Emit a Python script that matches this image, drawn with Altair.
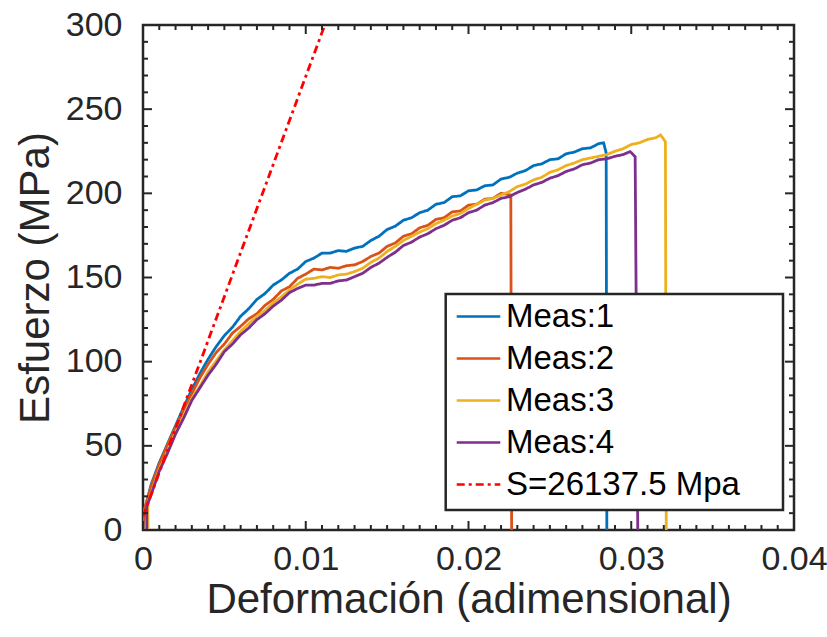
import altair as alt
import pandas as pd

# ---------------- data ----------------
SERIES = ["Meas:1", "Meas:2", "Meas:3", "Meas:4", "S=26137.5 Mpa"]
COLORS = ["#0072BD", "#D95319", "#EDB120", "#7E2F8E", "#FF0000"]

# shared strain sampling grid (0.0005 .. 0.0315)
GRID = [0.0005, 0.001, 0.0015, 0.002, 0.0025, 0.003, 0.0035, 0.004, 0.0045, 0.005,
        0.0055, 0.006, 0.0065, 0.007, 0.0075, 0.008, 0.0085, 0.009, 0.0095, 0.010,
        0.0105, 0.011, 0.0115, 0.012, 0.0125, 0.013, 0.0135, 0.014, 0.0145, 0.015,
        0.0155, 0.016, 0.0165, 0.017, 0.0175, 0.018, 0.0185, 0.019, 0.0195, 0.020,
        0.0205, 0.021, 0.0215, 0.022, 0.0225, 0.023, 0.0235, 0.024, 0.0245, 0.025,
        0.0255, 0.026, 0.0265, 0.027, 0.0275, 0.028, 0.0285, 0.029, 0.0295, 0.030,
        0.0305, 0.031, 0.0315]

# Meas:1 (blue)
m1_x_start = [0.0, 0.0001]
m1_y_start = [0, 12]
m1_y = [27, 40, 51, 62, 73, 83.5, 93, 101.5, 109, 115.5,
        120.5, 127, 131.5, 137, 140.5, 145.5, 148.5, 152.5, 155, 159.5,
        161.5, 164.5, 164.5, 166, 165.5, 167.5, 168.5, 172, 174.5, 178.5,
        180.5, 184, 185.5, 188.5, 190, 193.5, 194.5, 198, 198.5, 201.5,
        202, 204.5, 205, 208.5, 209.5, 212, 213.5, 216.5, 217.5, 220,
        220.5, 223.5, 224.5, 226.5, 227, 229.5]
m1_x_end = [0.0283, 0.02846, 0.0285]
m1_y_end = [230, 224, 0]

# Meas:2 (orange)
m2_x_start = [0.0, 0.00005]
m2_y_start = [0, 11]
m2_y = [26, 39, 50.5, 61, 71.5, 81, 90.5, 98.5, 105.5, 110.5,
        117, 121, 125.5, 128.5, 133.5, 137, 142, 144.5, 149.5, 152,
        155, 154.5, 156, 155.5, 157, 157.5, 159.5, 162.5, 164.5, 168.5,
        170.5, 174.5, 176, 179.5, 181, 184.5, 185.5, 189, 189.5, 193,
        193.5, 196.5, 197, 200]
m2_x_end = [0.0226, 0.02265]
m2_y_end = [199, 0]

# Meas:3 (yellow)
m3_x_start = [0.0003, 0.0003]
m3_y_start = [0, 16]
m3_y = [22, 36, 46.5, 58, 67.5, 78, 85.5, 94, 100.5, 107,
        112.5, 118, 122.5, 127, 130.5, 135, 138.5, 142.5, 146, 149,
        149.5, 150.5, 150, 151.5, 152, 153.5, 155.5, 159, 161.5, 165.5,
        168.5, 172, 174.5, 177, 179, 182, 184, 186.5, 188, 191,
        193.5, 196, 197, 199, 201, 204, 205.5, 208, 209.5, 212.5,
        214, 216.5, 218, 220, 221, 222, 223, 225, 226.5, 229,
        230, 232, 233]
m3_x_end = [0.0318, 0.0321, 0.03215]
m3_y_end = [234.7, 230.7, 0]

# Meas:4 (purple)
m4_x_start = [0.00023, 0.00023]
m4_y_start = [0, 14]
m4_y = [21, 35, 45.5, 57, 66.5, 77, 84.5, 92, 98.5, 106,
        110.5, 116, 120, 125, 128.5, 133, 136.5, 141, 143.5, 145.5,
        145.5, 146.5, 146.5, 148, 148.5, 150.5, 152.5, 156, 158.5, 162,
        165, 169, 171, 174, 176, 179, 181, 184, 185.5, 188.5,
        190, 193, 194.5, 197, 198, 200.5, 202.5, 205, 206.5, 209,
        210.5, 213, 214.5, 217, 218, 220, 220.5, 222, 223]
m4_x_end = [0.02993, 0.03024, 0.0304]
m4_y_end = [224.8, 221.8, 0]

# elastic fit line S = 26137.5 MPa
fit_x = [0.0, 0.01117]
fit_y = [8, 300]

# axis ticks
X_MAJOR = [0, 0.01, 0.02, 0.03, 0.04]
X_MINOR = [0.001, 0.002, 0.003, 0.004, 0.005, 0.006, 0.007, 0.008, 0.009,
           0.011, 0.012, 0.013, 0.014, 0.015, 0.016, 0.017, 0.018, 0.019,
           0.021, 0.022, 0.023, 0.024, 0.025, 0.026, 0.027, 0.028, 0.029,
           0.031, 0.032, 0.033, 0.034, 0.035, 0.036, 0.037, 0.038, 0.039]
Y_MAJOR = [0, 50, 100, 150, 200, 250, 300]
Y_MINOR = [10, 20, 30, 40, 60, 70, 80, 90, 110, 120, 130, 140, 160, 170, 180, 190,
           210, 220, 230, 240, 260, 270, 280, 290]

# ---------------- build table ----------------
def series_rows(name, xs, ys):
    return [{"x": a, "y": b, "s": name} for a, b in zip(xs, ys)]

rows = []
rows += series_rows(SERIES[0], m1_x_start + GRID[:len(m1_y)] + m1_x_end, m1_y_start + m1_y + m1_y_end)
rows += series_rows(SERIES[1], m2_x_start + GRID[:len(m2_y)] + m2_x_end, m2_y_start + m2_y + m2_y_end)
rows += series_rows(SERIES[2], m3_x_start + GRID[:len(m3_y)] + m3_x_end, m3_y_start + m3_y + m3_y_end)
rows += series_rows(SERIES[3], m4_x_start + GRID[:len(m4_y)] + m4_x_end, m4_y_start + m4_y + m4_y_end)
rows += series_rows(SERIES[4], fit_x, fit_y)
df = pd.DataFrame(rows)
df["o"] = range(len(df))

W, H = 651, 505
AX = "#262626"
FONT = "Liberation Sans"

xs = alt.Scale(domain=[0, 0.04], nice=False, zero=False)
ys = alt.Scale(domain=[0, 300], nice=False, zero=False)

common_axis = dict(tickSize=0, domain=False, grid=False, labelFlush=False,
                   labelFont=FONT, labelFontSize=34, labelColor=AX,
                   titleFont=FONT, titleFontSize=42, titleColor=AX, titleFontWeight="normal")
x_axis = alt.Axis(values=X_MAJOR, format=".2~f", title="Deformación (adimensional)",
                  labelPadding=12, titlePadding=3, **common_axis)
y_axis = alt.Axis(values=Y_MAJOR, format="d", title="Esfuerzo (MPa)",
                  labelPadding=21, titlePadding=8, **common_axis)

leg = alt.Legend(title=None, orient="none", legendX=312, legendY=268,
                 symbolType="stroke", symbolStrokeWidth=2.5,
                 symbolSize=1900, labelFontSize=33, labelFont=FONT,
                 labelColor="black", labelOffset=4, rowPadding=1,
                 padding=0, labelLimit=400)

lines = alt.Chart(df).mark_line(strokeWidth=2.8, clip=True).encode(
    x=alt.X("x:Q", scale=xs, axis=x_axis),
    y=alt.Y("y:Q", scale=ys, axis=y_axis),
    color=alt.Color("s:N", scale=alt.Scale(domain=SERIES, range=COLORS), legend=leg),
    strokeDash=alt.StrokeDash("s:N", scale=alt.Scale(domain=SERIES,
                              range=[[1, 0], [1, 0], [1, 0], [1, 0], [8, 4, 3, 4]]),
                              legend=leg),
    order="o:Q",
)

frame = alt.Chart(pd.DataFrame({"k": [0]})).mark_rect(
    fill="white", stroke=AX, strokeWidth=2.5
).encode(x=alt.value(302.7), x2=alt.value(640), y=alt.value(269), y2=alt.value(485))

def xticks(vals, ln):
    d = pd.DataFrame({"x": vals})
    bot = alt.Chart(d).mark_rule(color=AX, strokeWidth=2).encode(
        x=alt.X("x:Q", scale=xs, axis=x_axis), y=alt.value(H), y2=alt.value(H - ln))
    top = alt.Chart(d).mark_rule(color=AX, strokeWidth=2).encode(
        x=alt.X("x:Q", scale=xs, axis=x_axis), y=alt.value(0), y2=alt.value(ln))
    return [bot, top]

def yticks(vals, ln):
    d = pd.DataFrame({"y": vals})
    lef = alt.Chart(d).mark_rule(color=AX, strokeWidth=2).encode(
        y=alt.Y("y:Q", scale=ys, axis=y_axis), x=alt.value(0), x2=alt.value(ln))
    rig = alt.Chart(d).mark_rule(color=AX, strokeWidth=2).encode(
        y=alt.Y("y:Q", scale=ys, axis=y_axis), x=alt.value(W), x2=alt.value(W - ln))
    return [lef, rig]

ticks = xticks(X_MAJOR, 9) + xticks(X_MINOR, 5) + yticks(Y_MAJOR, 9) + yticks(Y_MINOR, 5)

chart = alt.layer(lines, *ticks, frame).properties(
    width=W, height=H,
    background="white",
    autosize=alt.AutoSizeParams(type="none"),
    padding={"left": 143, "top": 25, "right": 33, "bottom": 107},
).configure_view(
    stroke=AX, strokeWidth=2.5
)

chart.save("out.html", embed_options={"renderer": "svg", "actions": False})
